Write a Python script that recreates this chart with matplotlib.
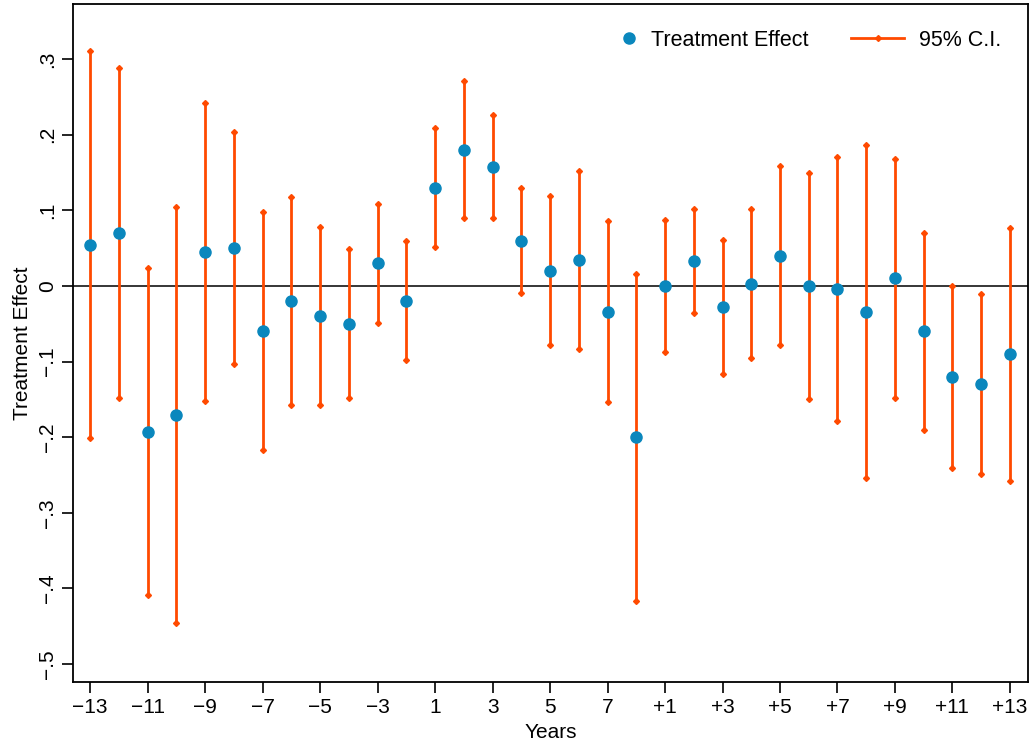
import matplotlib.pyplot as plt
import numpy as np

plt.rcParams['font.family'] = ['Liberation Sans', 'DejaVu Sans']

# x tick labels for every other period
tickLabels = ["\u221213", "\u221211", "\u22129", "\u22127", "\u22125", "\u22123",
              "1", "3", "5", "7",
              "+1", "+3", "+5", "+7", "+9", "+11", "+13"]

# point estimates (33 periods)
effect = [0.054, 0.070, -0.193, -0.171, 0.045, 0.050, -0.060, -0.020, -0.040, -0.050,
          0.030, -0.020, 0.130, 0.180, 0.157, 0.060, 0.020, 0.034, -0.034, -0.200,
          0.000, 0.033, -0.028, 0.003, 0.040, 0.000, -0.004, -0.034, 0.011, -0.060,
          -0.120, -0.130, -0.090]
upper = [0.311, 0.288, 0.024, 0.104, 0.242, 0.204, 0.098, 0.118, 0.078, 0.049,
         0.108, 0.060, 0.209, 0.271, 0.226, 0.130, 0.119, 0.152, 0.086, 0.016,
         0.087, 0.102, 0.061, 0.102, 0.159, 0.149, 0.171, 0.187, 0.168, 0.070,
         0.000, -0.011, 0.077]
lower = [-0.201, -0.148, -0.409, -0.446, -0.152, -0.103, -0.217, -0.157, -0.157, -0.148,
         -0.049, -0.098, 0.052, 0.090, 0.090, -0.009, -0.078, -0.083, -0.153, -0.417,
         -0.087, -0.036, -0.116, -0.095, -0.078, -0.149, -0.179, -0.254, -0.148, -0.190,
         -0.241, -0.249, -0.258]

yTicks = [0.3, 0.2, 0.1, 0, -0.1, -0.2, -0.3, -0.4, -0.5]
yLabels = [".3", ".2", ".1", "0", "\u2212.1", "\u2212.2", "\u2212.3", "\u2212.4", "\u2212.5"]

blue = "#0a87bd"
orange = "#ff4a00"

x = np.arange(len(effect))

fig = plt.figure(figsize=(10.31, 7.45), dpi=100)
ax = fig.add_axes([73/1031, 1-682/745, (1028-73)/1031, (682-4)/745])

ax.axhline(0, color="black", linewidth=1.1, zorder=1)
for i in range(len(x)):
    ax.plot([x[i], x[i]], [lower[i], upper[i]], color=orange, linewidth=2,
            marker="D", markersize=3, zorder=2)
ax.plot(x, effect, "o", color=blue, markersize=8, zorder=3)

# two legends so each key gets its own handle length
h1, = ax.plot([], [], "o", color=blue, markersize=8)
h2, = ax.plot([], [], color=orange, linewidth=2, marker="D", markersize=3)
leg1 = ax.legend([h1], ["Treatment Effect"], loc="upper left", frameon=False,
                 fontsize=15.5, handlelength=1.0, handletextpad=0.5,
                 borderaxespad=0, bbox_to_anchor=(0.562, 0.975))
ax.add_artist(leg1)
ax.legend([h2], ["95% C.I."], loc="upper left", frameon=False,
          fontsize=15.5, handlelength=2.45, handletextpad=0.7,
          borderaxespad=0, bbox_to_anchor=(0.806, 0.975))

ax.set_xlim(-0.6, 32.63)
ax.set_ylim(-0.524, 0.373)
ax.set_xticks(x[::2])
ax.set_xticklabels(tickLabels, fontsize=15)
ax.set_yticks(yTicks)
ax.set_yticklabels(yLabels, fontsize=15, rotation=90, va="center")
ax.tick_params(direction="out", length=8, width=1.2)
for s in ax.spines.values():
    s.set_linewidth(1.3)

ax.set_xlabel("Years", fontsize=15, labelpad=4)
ax.set_ylabel("Treatment Effect", fontsize=15, labelpad=4)

fig.savefig("out.png", dpi=100)
